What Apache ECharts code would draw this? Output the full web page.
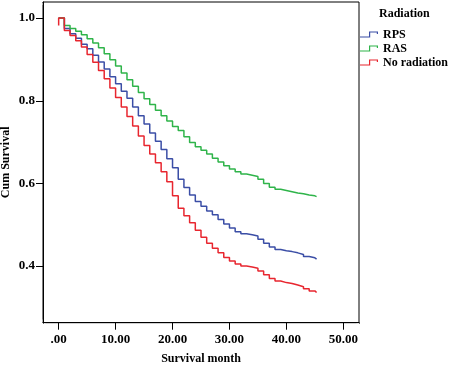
<!DOCTYPE html>
<html lang="en">
<head>
    <meta charset="UTF-8">
    <script type="text/javascript" src="https://cdn.jsdelivr.net/npm/echarts@6/dist/echarts.min.js"></script>
    <title>Survival curves</title>
    <style>
        html, body { margin: 0; padding: 0; background: #fff; }
    </style>
</head>
<body>

<div style="width: 450px; height: 365px" id="survChart"></div>

<script>
    // months where the curves step down
    var months = [1,2,3,4,5,6,7,8,9,10,11,12,13,14,15,16,17,18,19,20,21,22,23,24,25,26,27,28,29,30,
        31,32,33,34,35,36,37,38,39,40,41,42,43,44,45];

    var rpsSurv = [0.975,0.962,0.951,0.937,0.926,0.910,0.894,0.877,0.858,0.841,0.823,0.806,0.785,0.764,0.744,
        0.722,0.702,0.682,0.660,0.638,0.610,0.590,0.572,0.556,0.545,0.533,0.524,0.513,0.502,0.492,
        0.483,0.478,0.476,0.473,0.465,0.455,0.446,0.440,0.437,0.435,0.432,0.428,0.423,0.420,0.417];

    var rasSurv = [0.982,0.975,0.968,0.960,0.950,0.940,0.928,0.914,0.899,0.884,0.867,0.851,0.835,0.820,0.805,
        0.791,0.777,0.764,0.751,0.738,0.728,0.713,0.699,0.689,0.680,0.671,0.661,0.652,0.643,0.635,
        0.628,0.623,0.620,0.617,0.610,0.600,0.591,0.586,0.583,0.580,0.577,0.575,0.572,0.570,0.568];

    var noRadSurv = [0.970,0.958,0.945,0.930,0.912,0.893,0.873,0.853,0.831,0.808,0.785,0.762,0.739,0.715,0.692,
        0.671,0.650,0.628,0.604,0.570,0.540,0.522,0.505,0.487,0.470,0.455,0.443,0.432,0.421,0.412,
        0.405,0.400,0.398,0.395,0.388,0.379,0.370,0.364,0.360,0.358,0.354,0.350,0.345,0.340,0.336];

    // the red curve has a little rise drawn at time 0
    var noRadStart = [0.982, 1.0];

    var seriesNames = ['RPS', 'RAS', 'No radiation'];
    var seriesColors = ['#3b4ea6', '#2fb44a', '#e8262f'];

    var xTicks = [0, 10, 20, 30, 40, 50];
    var yTicks = [0.4, 0.6, 0.8, 1.0];

    var lastMonth = 45.3;

    function buildSteps(start, surv) {
        var pts = [];
        for (var i = 0; i < start.length; i++) {
            pts.push([0, start[i]]);
        }
        for (var j = 0; j < months.length; j++) {
            pts.push([months[j], surv[j]]);
        }
        pts.push([lastMonth, surv[surv.length - 1]]);
        return pts;
    }

    var serif = 'Liberation Serif';
    var stepIcon = 'path://M0,5 L9,5 L9,0 L18,0 L18,2.6 L16.8,2.6 L16.8,1.2 L10.2,1.2 L10.2,6.2 L0,6.2 Z';

    // white patches hiding the ticks echarts adds at the axis ends
    function hideTick(x, y, w, h) {
        return {type: 'rect', shape: {x: x, y: y, width: w, height: h}, style: {fill: '#fff'}, z: 100, silent: true};
    }

    var mCharts = echarts.init(document.getElementById('survChart'));

    var option = {
        animation: false,
        title: {
            text: 'Radiation',
            left: 374,
            top: 3,
            textStyle: {fontFamily: serif, fontSize: 12, fontWeight: 'bold', color: '#000'}
        },
        legend: {
            orient: 'vertical',
            left: 355,
            top: 23.5,
            itemWidth: 18,
            itemHeight: 6.2,
            itemGap: 2,
            icon: stepIcon,
            data: seriesNames,
            textStyle: {fontFamily: serif, fontSize: 12, fontWeight: 'bold', color: '#000'}
        },
        grid: {
            show: true,
            left: 43,
            top: 2,
            width: 316,
            height: 320.7,
            borderColor: '#000',
            borderWidth: 1,
            containLabel: false,
            outerBoundsMode: 'none'
        },
        graphic: [
            hideTick(40.5, 323.6, 5, 9),
            hideTick(356.5, 323.6, 5, 9),
            hideTick(34, 319.5, 8.4, 6),
            hideTick(34, 0, 8.4, 5)
        ],
        xAxis: {
            type: 'value',
            min: -2.75,
            max: 52.75,
            splitNumber: 5,
            name: 'Survival month',
            nameLocation: 'middle',
            nameGap: 30.5,
            nameMoveOverlap: false,
            nameTextStyle: {fontFamily: serif, fontSize: 12, fontWeight: 'bold', color: '#000'},
            axisLine: {show: true, onZero: false, lineStyle: {color: '#000', width: 1}},
            axisTick: {show: true, length: 7, lineStyle: {color: '#000'}},
            axisLabel: {
                customValues: xTicks,
                margin: 10,
                fontFamily: serif, fontSize: 13, fontWeight: 'bold', color: '#000',
                formatter: function (v) {
                    return v === 0 ? '.00' : v.toFixed(2);
                }
            },
            splitLine: {show: false}
        },
        yAxis: {
            type: 'value',
            min: 0.263,
            max: 1.039,
            splitNumber: 5,
            name: 'Cum Survival',
            nameLocation: 'middle',
            nameGap: 31,
            nameMoveOverlap: false,
            nameTextStyle: {fontFamily: serif, fontSize: 12, fontWeight: 'bold', color: '#000'},
            axisLine: {show: true, onZero: false, lineStyle: {color: '#000', width: 1}},
            axisTick: {show: true, length: 7, lineStyle: {color: '#000'}},
            axisLabel: {
                customValues: yTicks,
                margin: 8,
                fontFamily: serif, fontSize: 13, fontWeight: 'bold', color: '#000',
                formatter: function (v) {
                    return v.toFixed(1);
                }
            },
            splitLine: {show: false}
        },
        series: [
            {
                name: seriesNames[0],
                type: 'line',
                step: 'end',
                showSymbol: false,
                color: seriesColors[0],
                lineStyle: {width: 1.5},
                data: buildSteps([1.0], rpsSurv)
            },
            {
                name: seriesNames[1],
                type: 'line',
                step: 'end',
                showSymbol: false,
                color: seriesColors[1],
                lineStyle: {width: 1.5},
                data: buildSteps([1.0], rasSurv)
            },
            {
                name: seriesNames[2],
                type: 'line',
                step: 'end',
                showSymbol: false,
                color: seriesColors[2],
                lineStyle: {width: 1.5},
                data: buildSteps(noRadStart, noRadSurv)
            }
        ]
    };

    mCharts.setOption(option);
</script>

</body>
</html>
